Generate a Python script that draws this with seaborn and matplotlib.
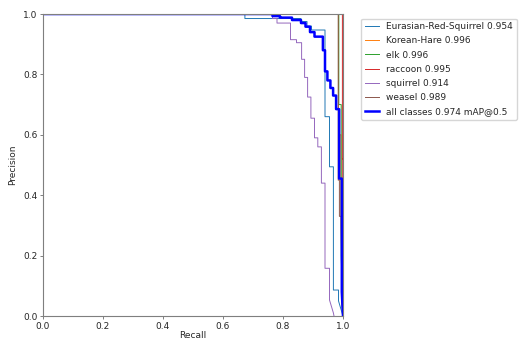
import matplotlib
matplotlib.use("Agg")
import matplotlib.pyplot as plt
import seaborn as sns
import pandas as pd

# ---- data ----
class_names = ["Eurasian-Red-Squirrel", "Korean-Hare", "elk", "raccoon", "squirrel", "weasel"]
class_ap = [0.954, 0.996, 0.996, 0.995, 0.914, 0.989]
map50 = 0.974

recall_eurasian = [0, 0.673, 0.673, 0.86, 0.86, 0.88, 0.88, 0.895, 0.895, 0.94, 0.94, 0.955, 0.955, 0.968, 0.968, 0.985, 0.985, 1.0]
precision_eurasian = [1, 1, 0.985, 0.985, 0.975, 0.975, 0.96, 0.96, 0.947, 0.947, 0.66, 0.66, 0.494, 0.494, 0.086, 0.086, 0.05, 0.0]

recall_hare = [0, 0.985, 0.985, 0.993, 0.993, 1.0]
precision_hare = [1, 1, 0.6, 0.6, 0.3, 0.0]

recall_elk = [0, 0.986, 0.986, 0.994, 0.994, 1.0]
precision_elk = [1, 1, 0.7, 0.7, 0.2, 0.0]

recall_raccoon = [0, 0.998, 0.998, 0.999, 0.999, 1.0]
precision_raccoon = [1, 1, 0.52, 0.52, 0.05, 0.0]

recall_squirrel = [0, 0.765, 0.765, 0.78, 0.78, 0.825, 0.825, 0.845, 0.845, 0.862, 0.862, 0.872, 0.872,
                   0.882, 0.882, 0.893, 0.893, 0.905, 0.905, 0.916, 0.916, 0.928, 0.928, 0.94, 0.94,
                   0.955, 0.955, 0.968, 0.97]
precision_squirrel = [1, 1, 0.985, 0.985, 0.97, 0.97, 0.915, 0.915, 0.905, 0.905, 0.85, 0.85, 0.79,
                      0.79, 0.725, 0.725, 0.655, 0.655, 0.59, 0.59, 0.56, 0.56, 0.44, 0.44, 0.158,
                      0.158, 0.053, 0.01, 0.0]

recall_weasel = [0, 0.984, 0.984, 0.988, 0.988, 0.995, 0.995, 1.0]
precision_weasel = [1, 1, 0.45, 0.45, 0.33, 0.33, 0.05, 0.0]

recall_all = [0, 0.765, 0.765, 0.79, 0.79, 0.83, 0.83, 0.86, 0.86, 0.875, 0.875, 0.89, 0.89, 0.905, 0.905,
              0.933, 0.933, 0.94, 0.94, 0.948, 0.948, 0.958, 0.958, 0.967, 0.967, 0.977, 0.977, 0.987,
              0.987, 0.996, 0.996, 1.0]
precision_all = [1, 1, 0.993, 0.993, 0.988, 0.988, 0.98, 0.98, 0.97, 0.97, 0.958, 0.958, 0.94, 0.94, 0.925,
                 0.925, 0.88, 0.88, 0.81, 0.81, 0.78, 0.78, 0.755, 0.755, 0.73, 0.73, 0.685, 0.685,
                 0.455, 0.455, 0.08, 0.0]

class_recalls = [recall_eurasian, recall_hare, recall_elk, recall_raccoon, recall_squirrel, recall_weasel]
class_precisions = [precision_eurasian, precision_hare, precision_elk, precision_raccoon, precision_squirrel, precision_weasel]

# ---- style ----
plt.rcParams["font.family"] = ["DejaVu Sans"]
fs = 6.5
text_color = "#262626"
spine_color = "#7f7f7f"

fig = plt.figure(figsize=(5.2, 3.41), dpi=100)
ax = fig.add_axes([43 / 520, 1 - 316 / 341, 300 / 520, 302 / 341])

palette = sns.color_palette("tab10")
for i, (name, ap, r, p) in enumerate(zip(class_names, class_ap, class_recalls, class_precisions)):
    df = pd.DataFrame({"Recall": r, "Precision": p})
    sns.lineplot(data=df, x="Recall", y="Precision", sort=False, estimator=None,
                 color=palette[i], linewidth=0.7, label=f"{name} {ap:.3f}", ax=ax)

df_all = pd.DataFrame({"Recall": recall_all, "Precision": precision_all})
sns.lineplot(data=df_all, x="Recall", y="Precision", sort=False, estimator=None,
             color="blue", linewidth=1.8, label=f"all classes {map50:.3f} mAP@0.5", ax=ax)

ax.set_xlim(0, 1)
ax.set_ylim(0, 1)
ax.set_xlabel("Recall", fontsize=fs, color=text_color, labelpad=0.5)
ax.set_ylabel("Precision", fontsize=fs, color=text_color, labelpad=4)
ax.tick_params(labelsize=fs, colors=spine_color, labelcolor=text_color, length=2.5, width=0.7, pad=1.5)
for s in ax.spines.values():
    s.set_color(spine_color)
    s.set_linewidth(0.8)

leg = ax.legend(bbox_to_anchor=(1.045, 1), loc="upper left", fontsize=fs, frameon=True,
                borderaxespad=0.5, handlelength=1.6, labelspacing=0.58)
for t in leg.get_texts():
    t.set_color(text_color)

fig.savefig("out.png", dpi=100)
